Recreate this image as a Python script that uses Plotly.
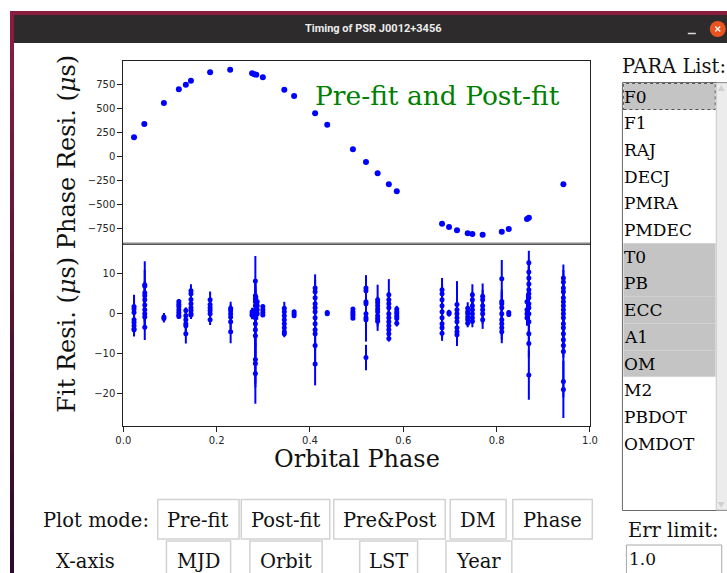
import plotly.graph_objects as go

# ---------------- data ----------------
pre_phase = [0.023, 0.045, 0.087, 0.119, 0.134, 0.145, 0.186, 0.229, 0.276, 0.281,
             0.285, 0.299, 0.345, 0.366, 0.411, 0.437, 0.492, 0.520, 0.545, 0.569,
             0.586, 0.683, 0.698, 0.715, 0.738, 0.748, 0.770, 0.811, 0.826, 0.865,
             0.869, 0.943]
pre_resid = [202, 342, 562, 705, 753, 795, 883, 910, 872, 862,
             858, 830, 701, 635, 454, 335, 77, -56, -175, -290,
             -363, -702, -737, -771, -803, -810, -817, -786, -758, -653,
             -639, -290]

cluster_phase = [0.023, 0.046, 0.087, 0.119, 0.134, 0.145, 0.186, 0.230, 0.276, 0.283,
                 0.287, 0.299, 0.345, 0.366, 0.411, 0.437, 0.492, 0.520, 0.545, 0.569,
                 0.586, 0.683, 0.698, 0.715, 0.738, 0.748, 0.770, 0.811, 0.826, 0.865,
                 0.869, 0.943]
cluster_resid = [
    [1.8, 1.2, 0.3, -1.5, -2.2, -3.0, -3.8, -4.0],
    [7.3, 7.0, 5.3, 4.5, 3.5, 2.2, 1.0, 0.0, -0.8, -3.4],
    [-0.8, -1.2],
    [3.1, 2.4, 1.8, 1.0, 0.3, -0.3, -0.7],
    [0.8, -0.5, -1.5, -2.5, -3.0, -5.0],
    [5.8, 5.0, 3.6, 2.5, 1.5, 0.8, 0.0, -0.3],
    [3.5, 2.3, 1.5, 0.8, 0.0, -1.5],
    [1.4, 0.8, 0.0, -0.8, -2.0, -4.5],
    [0.5, 0.0, -0.4],
    [8.2, 4.5, 3.8, 3.0, 2.0, 1.0, 0.0, -1.0, -2.5, -4.0, -5.5, -11.5, -12.5, -15.0],
    [3.0, 2.0, 1.0, 0.0],
    [1.8, 1.0, 0.3, -0.3],
    [1.4, 0.5, -0.5, -1.5, -2.5, -3.5, -4.5, -5.0],
    [0.5, 0.0, -0.5],
    [6.5, 5.5, 4.0, 2.5, 1.5, 0.5, -1.0, -2.5, -4.0, -5.0, -8.0, -12.6],
    [0.3, 0.0],
    [1.2, 0.5, 0.0, -0.5, -1.1],
    [6.5, 5.8, 3.0, 2.5, 0.0, -1.0, -1.5, -11.0],
    [3.5, 2.8, 2.0, 1.2, 0.5, -0.5, -1.2, -1.9],
    [4.8, 3.5, 2.5, 1.5, 0.0, -1.0, -2.0, -3.0, -4.0, -5.0, -6.2],
    [1.2, 0.5, 0.0, -0.6, -1.2, -2.4],
    [6.0, 5.0, 3.5, 2.0, 0.5, -1.0, -2.5, -3.5, -4.9],
    [0.3, 0.0],
    [2.3, 1.0, 0.0, -1.0, -2.0, -3.5, -4.5, -5.3],
    [1.4, 0.5, 0.0, -0.8, -1.5, -2.4],
    [4.8, 3.5, 2.0, 1.0, 0.0, -1.0, -1.9],
    [4.4, 3.5, 2.0, 1.0, 0.0, -1.5],
    [8.8, 3.1, 2.5, 1.5, 0.0, -1.5, -2.5, -3.5, -4.5],
    [0.3, -0.2],
    [3.0, 1.0, 0.0, -1.0],
    [12.8, 10.5, 9.0, 7.5, 6.0, 5.0, 4.0, 2.5, 1.5, 0.0, -2.0, -5.0, -7.5, -15.4],
    [9.0, 8.0, 6.5, 5.5, 4.0, 3.0, 2.0, 1.0, 0.0, -1.0, -2.5, -3.5, -5.0, -6.5, -8.0, -9.5, -17.0, -19.0],
]
cluster_err = [
    [3.0, 2.5, 2.0, 2.0, 2.0, 2.0, 1.8, 1.7],
    [5.9, 4.0, 3.0, 3.0, 3.0, 3.0, 3.0, 3.0, 3.0, 3.2],
    [1.0, 1.0],
    [0.6, 0.6, 0.6, 0.6, 0.6, 0.6, 0.6],
    [0.8, 2.0, 2.0, 2.5, 2.5, 2.5],
    [1.6, 1.5, 1.5, 1.5, 1.5, 1.5, 1.2, 1.0],
    [2.1, 1.5, 1.5, 1.5, 1.5, 1.3],
    [1.6, 1.5, 1.5, 1.5, 2.0, 2.9],
    [1.0, 1.0, 1.0],
    [6.3, 4.0, 4.0, 4.0, 4.0, 4.0, 4.0, 4.0, 4.0, 4.0, 5.0, 6.0, 6.0, 7.6],
    [1.5, 1.5, 1.5, 1.5],
    [0.5, 0.5, 0.5, 0.5],
    [1.6, 1.5, 1.5, 1.5, 1.5, 1.2, 1.0, 0.9],
    [0.4, 0.4, 0.4],
    [3.4, 3.0, 3.0, 3.0, 3.0, 3.0, 3.0, 3.0, 3.5, 4.0, 4.5, 5.4],
    [0.5, 0.5],
    [0.4, 0.4, 0.4, 0.4, 0.4],
    [3.2, 3.0, 3.0, 3.0, 3.0, 3.0, 5.5, 3.2],
    [3.8, 1.5, 1.5, 1.5, 1.5, 1.5, 2.0, 2.4],
    [3.9, 2.0, 2.0, 2.0, 2.0, 2.0, 2.0, 2.0, 2.0, 1.5, 0.8],
    [0.8, 0.8, 0.8, 0.8, 0.8, 0.8],
    [3.0, 2.5, 2.5, 2.5, 2.5, 2.5, 2.5, 2.5, 1.9],
    [0.7, 0.7],
    [5.9, 3.0, 3.0, 3.0, 3.0, 3.0, 3.0, 2.8],
    [1.5, 1.2, 1.2, 1.2, 1.2, 1.0],
    [2.6, 2.0, 2.0, 2.0, 2.0, 1.5, 1.5],
    [3.2, 2.5, 2.5, 2.5, 2.5, 2.3],
    [4.7, 3.0, 3.0, 3.0, 3.0, 3.0, 3.0, 3.0, 2.9],
    [0.6, 0.6],
    [2.0, 2.0, 2.0, 2.0],
    [3.0, 3.0, 3.0, 3.0, 3.0, 3.0, 3.0, 3.0, 3.0, 3.0, 3.0, 3.0, 3.5, 6.2],
    [3.4, 3.0, 3.0, 3.0, 3.0, 3.0, 3.0, 3.0, 3.0, 3.0, 3.0, 3.0, 3.0, 3.0, 3.0, 3.5, 4.0, 7.2],
]

pre_yticks = [-750, -500, -250, 0, 250, 500, 750]
fit_yticks = [-20, -10, 0, 10]
x_ticks = [0.0, 0.2, 0.4, 0.6, 0.8, 1.0]
x_ticklabels = ["0.0", "0.2", "0.4", "0.6", "0.8", "1.0"]

para_list = ["F0", "F1", "RAJ", "DECJ", "PMRA", "PMDEC", "T0", "PB", "ECC", "A1",
             "OM", "M2", "PBDOT", "OMDOT"]
para_selected = ["F0", "T0", "PB", "ECC", "A1", "OM"]
mode_buttons = ["Pre-fit", "Post-fit", "Pre&Post", "DM", "Phase"]
xaxis_buttons = ["MJD", "Orbit", "LST", "Year"]

# ---------------- build ----------------
fit_x, fit_y, fit_e = [], [], []
for ph, rs, er in zip(cluster_phase, cluster_resid, cluster_err):
    fit_x += [ph] * len(rs)
    fit_y += rs
    fit_e += er

W, H = 727, 573
# the photographed page comes out horizontally squeezed (x' = 7 + 0.9797 x);
# positions below are given in target-picture pixels and converted here
SX, OX = 0.9797, 7.0
def fx(x): return ((x - OX) / SX) / W
def fy(y): return 1 - y / H

X0, X1 = 122.5, 590.0
Y_TOP, Y_MID, Y_BOT = 61.0, 243.5, 426.0

SERIF = "DejaVu Serif"
SANS = "DejaVu Sans"
BLUE = "#0000ff"
AX = "#222222"

fig = go.Figure()
fig.add_trace(go.Scatter(x=pre_phase, y=pre_resid, mode="markers",
                         marker=dict(color=BLUE, size=6, line=dict(width=0)),
                         xaxis="x", yaxis="y", showlegend=False, hoverinfo="skip"))
fig.add_trace(go.Scatter(x=fit_x, y=fit_y, mode="markers",
                         marker=dict(color=BLUE, size=5, line=dict(width=0)),
                         error_y=dict(type="data", array=fit_e, color=BLUE, thickness=2, width=0),
                         xaxis="x2", yaxis="y2", showlegend=False, hoverinfo="skip"))

tickfont = dict(family=SANS, size=10, color="#262626")
common = dict(showline=True, mirror=True, linecolor=AX, linewidth=1, zeroline=False,
              showgrid=False, ticks="outside", ticklen=5, tickwidth=1, tickcolor=AX,
              tickfont=tickfont)

fig.update_layout(
    width=W, height=H, margin=dict(l=0, r=0, t=0, b=0),
    paper_bgcolor="white", plot_bgcolor="white", showlegend=False,
    xaxis=dict(domain=[fx(X0), fx(X1)], range=[0, 1], anchor="y", showticklabels=False,
               **{**common, "ticks": ""}),
    yaxis=dict(domain=[fy(Y_MID), fy(Y_TOP)], range=[-909, 1001], anchor="x",
               tickvals=pre_yticks, **common),
    xaxis2=dict(domain=[fx(X0), fx(X1)], range=[0, 1], anchor="y2",
                tickvals=x_ticks, ticktext=x_ticklabels, **common),
    yaxis2=dict(domain=[fy(Y_BOT), fy(Y_MID)], range=[-28.2, 17.65], anchor="x2",
                tickvals=fit_yticks, **common),
)

shapes = []
anns = []

def rect(x0, y0, x1, y1, fill=None, line=None, lw=1, dash=None, layer="above"):
    d = dict(type="rect", xref="paper", yref="paper", x0=fx(x0), x1=fx(x1),
             y0=fy(y1), y1=fy(y0), layer=layer,
             line=dict(width=lw if line else 0, color=line or "rgba(0,0,0,0)"))
    if dash:
        d["line"]["dash"] = dash
    if fill:
        d["fillcolor"] = fill
    shapes.append(d)

def line(x0, y0, x1, y1, color, lw=1):
    shapes.append(dict(type="line", xref="paper", yref="paper", x0=fx(x0), x1=fx(x1),
                       y0=fy(y0), y1=fy(y1), line=dict(color=color, width=lw)))

def text(x, y, s, size=19.5, color="#111111", family=SERIF, xanchor="left", angle=0,
         height=None):
    a = dict(x=fx(x), y=fy(y), xref="paper", yref="paper", text=s, showarrow=False,
             xanchor=xanchor, yanchor="middle", textangle=angle,
             font=dict(family=family, size=size, color=color))
    if height:
        a["height"] = height
    anns.append(a)

# separator line between the two axes
line(X0, Y_MID, X1, Y_MID, "#8a8a8a", 2)

# window decoration
rect(9, 11, 740, 15, fill="#8b1d3f")
n = 14
for i in range(n):
    t = i / (n - 1)
    r = int(138 + (44 - 138) * t); g = int(29 + (12 - 29) * t); b = int(63 + (44 - 63) * t)
    rect(9, 11 + i * (562 / n), 13, 11 + (i + 1) * (562 / n) + 1, fill=f"rgb({r},{g},{b})")
rect(13, 15, 740, 43, fill="#2d2b2c")
text(373, 29, "<b>Timing of PSR J0012+3456</b>", size=11, color="#ececec",
     family="Roboto", xanchor="center")
line(688, 33.5, 696, 33.5, "#dddddd", 1.5)
shapes.append(dict(type="circle", xref="paper", yref="paper", x0=fx(710), x1=fx(726),
                   y0=fy(37), y1=fy(21), fillcolor="#e95420", line=dict(width=0)))
line(715.5, 26.5, 720.5, 31.5, "#fafafa", 1.3)
line(720.5, 26.5, 715.5, 31.5, "#fafafa", 1.3)

# axis labels and title text
text(66, (Y_TOP + Y_MID) / 2, "Phase Resi. (<i>μ</i>s)", size=24, color="#111111",
     xanchor="center", angle=-90)
text(66, (Y_MID + Y_BOT) / 2, "Fit Resi. (<i>μ</i>s)", size=24, color="#111111",
     xanchor="center", angle=-90)
text((X0 + X1) / 2, 458.5, "Orbital Phase", size=24, color="#111111", xanchor="center",
     height=25)
text(313, 96, "Pre-fit and Post-fit", size=26.5, color="#008000")

# right panel: parameter list
text(620, 66, "PARA List:", size=19.5)
rect(622.5, 82.5, 740, 510.5, fill="white", line="#6a6a6a")
row_h = 26.7
for i, p in enumerate(para_list):
    cy = 96.5 + i * row_h
    if p in para_selected:
        rect(623.5, cy - row_h / 2, 715.8, cy + row_h / 2, fill="#c4c4c4")
for i, p in enumerate(para_list):
    cy = 96.5 + i * row_h
    text(622.5, cy, p, size=17, color="#050505")
rect(623.5, 83.5, 715.5, 109.5, line="#555555", dash="dot")
rect(716.5, 83, 740, 510, fill="#ececec", line="#c8c8c8")
shapes.append(dict(type="path", xref="paper", yref="paper",
                   path=f"M {fx(718)},{fy(91)} L {fx(725)},{fy(91)} L {fx(721.5)},{fy(85)} Z",
                   fillcolor="#d0d0d0", line=dict(width=0)))
shapes.append(dict(type="path", xref="paper", yref="paper",
                   path=f"M {fx(718)},{fy(502)} L {fx(725)},{fy(502)} L {fx(721.5)},{fy(508)} Z",
                   fillcolor="#d0d0d0", line=dict(width=0)))

text(626, 530, "Err limit:", size=19.5)
rect(626.5, 545, 722, 580, fill="white", line="#a8a8a8")
text(627, 559, "1.0", size=17)

# bottom buttons
text(40.5, 520.5, "Plot mode:", size=19.5)
row1 = [(157, 238.5), (240.7, 329.3), (333.3, 445), (450, 506), (512.7, 592.3)]
for (a, b), lab in zip(row1, mode_buttons):
    rect(a, 499.5, b, 539, fill="white", line="#d2d2d2", lw=1.5)
    text((a + b) / 2, 520.5, lab, size=19.5, xanchor="center")
text(85, 561, "X-axis", size=19.5, xanchor="center")
row2 = [(165.7, 230), (249.3, 321.7), (359.3, 417.3), (445.7, 511.7)]
for (a, b), lab in zip(row2, xaxis_buttons):
    rect(a, 541, b, 580, fill="white", line="#d2d2d2", lw=1.5)
    text((a + b) / 2, 561, lab, size=19.5, xanchor="center")

fig.update_layout(shapes=shapes, annotations=anns)
fig.write_html("out.html", config={"displayModeBar": False})
